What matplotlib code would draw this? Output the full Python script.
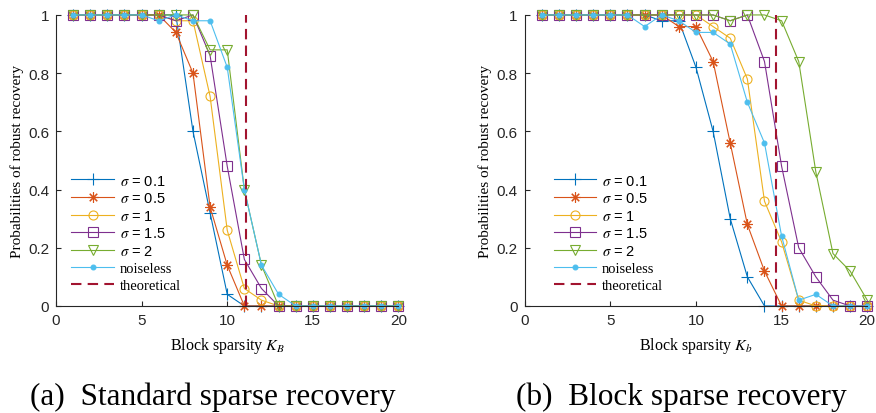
import matplotlib
matplotlib.use('Agg')
import matplotlib.pyplot as plt
from matplotlib.ticker import FuncFormatter

plt.rcParams['font.family'] = 'Liberation Sans'
plt.rcParams['mathtext.fontset'] = 'stix'

# block sparsity values on the x axis
ks = list(range(1, 21))

# (a) standard sparse recovery
std_s01 = [1, 1, 1, 1, 1, 1, 1, 0.60, 0.32, 0.04, 0, 0, 0, 0, 0, 0, 0, 0, 0, 0]
std_s05 = [1, 1, 1, 1, 1, 1, 0.94, 0.80, 0.34, 0.14, 0, 0, 0, 0, 0, 0, 0, 0, 0, 0]
std_s1 = [1, 1, 1, 1, 1, 1, 0.98, 0.98, 0.72, 0.26, 0.06, 0.02, 0, 0, 0, 0, 0, 0, 0, 0]
std_s15 = [1, 1, 1, 1, 1, 1, 0.98, 1, 0.86, 0.48, 0.16, 0.06, 0, 0, 0, 0, 0, 0, 0, 0]
std_s2 = [1, 1, 1, 1, 1, 1, 1, 1, 0.88, 0.88, 0.40, 0.14, 0, 0, 0, 0, 0, 0, 0, 0]
std_noiseless = [1, 1, 1, 1, 1, 0.98, 1, 0.98, 0.98, 0.82, 0.40, 0.14, 0.04, 0, 0, 0, 0, 0, 0, 0]
std_theory = 11.1

# (b) block sparse recovery
blk_s01 = [1, 1, 1, 1, 1, 1, 1, 0.98, 0.98, 0.82, 0.60, 0.30, 0.10, 0, 0, 0, 0, 0, 0, 0]
blk_s05 = [1, 1, 1, 1, 1, 1, 1, 1, 0.96, 0.96, 0.84, 0.56, 0.28, 0.12, 0, 0, 0, 0, 0, 0]
blk_s1 = [1, 1, 1, 1, 1, 1, 1, 1, 1, 1, 0.96, 0.92, 0.78, 0.36, 0.22, 0.02, 0, 0, 0, 0]
blk_s15 = [1, 1, 1, 1, 1, 1, 1, 1, 1, 1, 1, 0.98, 1, 0.84, 0.48, 0.20, 0.10, 0.02, 0, 0]
blk_s2 = [1, 1, 1, 1, 1, 1, 1, 1, 1, 1, 1, 0.98, 1, 1, 0.98, 0.84, 0.46, 0.18, 0.12, 0.02]
blk_noiseless = [1, 1, 1, 1, 1, 1, 0.96, 1, 0.98, 0.94, 0.94, 0.90, 0.70, 0.56, 0.24, 0.02, 0.04, 0, 0, 0]
blk_theory = 14.7

labels = [r'$\sigma$ = 0.1', r'$\sigma$ = 0.5', r'$\sigma$ = 1', r'$\sigma$ = 1.5',
          r'$\sigma$ = 2', 'noiseless', 'theoretical']
colors = ['#0072BD', '#D95319', '#EDB120', '#7E2F8E', '#77AC30', '#4DBEEE', '#A2142F']
markers = ['+', (8, 2, 0), 'o', 's', 'v', 'o']
msizes = [8, 7.5, 6.5, 6.5, 7.5, 3.5]


def draw_panel(ax, series, theory, xlabel, leg_x):
  for i, ys in enumerate(series):
    filled = i in (0, 1, 5)
    ax.plot(ks, ys, color=colors[i], lw=0.8, marker=markers[i], ms=msizes[i],
            mfc=colors[i] if filled else 'none', mec=colors[i], mew=0.8,
            label=labels[i])
  ax.plot([theory, theory], [0, 1], color=colors[6], lw=1.5, ls=(0, (5, 3)),
          label=labels[6])
  ax.set_xlim(0, 20)
  ax.set_ylim(0, 1)
  ax.set_xticks([0, 5, 10, 15, 20])
  ax.set_yticks([0, 0.2, 0.4, 0.6, 0.8, 1])
  ax.yaxis.set_major_formatter(FuncFormatter(lambda v, p: '%g' % v))
  for s in ['top', 'right']:
    ax.spines[s].set_visible(False)
  for s in ['left', 'bottom']:
    ax.spines[s].set_color('#262626')
    ax.spines[s].set_linewidth(0.8)
  ax.tick_params(direction='in', length=3.5, width=0.8, colors='#262626',
                 labelsize=11, pad=5)
  ax.set_xlabel(xlabel, family='Liberation Serif', fontsize=11.5, labelpad=6)
  ax.set_ylabel('Probabilities of robust recovery', family='Liberation Serif',
                fontsize=11, labelpad=3)
  leg = ax.legend(loc='upper left', bbox_to_anchor=(leg_x, 0.455), frameon=False,
                  fontsize=10.5, handlelength=2.9, handletextpad=0.4,
                  labelspacing=0.25, borderpad=0, borderaxespad=0)
  for t in leg.get_texts()[5:]:
    t.set_fontfamily('Liberation Serif')
  for ln in ax.lines:
    ln.set_clip_on(False)


fig = plt.figure(figsize=(8.76, 4.14), dpi=100)
ax1 = fig.add_axes([0.0639, 0.2585, 0.391, 0.703])
ax2 = fig.add_axes([0.599, 0.2585, 0.391, 0.703])

draw_panel(ax1, [std_s01, std_s05, std_s1, std_s15, std_s2, std_noiseless],
           std_theory, r'Block sparsity $K_B$', 0.045)
draw_panel(ax2, [blk_s01, blk_s05, blk_s1, blk_s15, blk_s2, blk_noiseless],
           blk_theory, r'Block sparsity $K_b$', 0.085)

fig.text(0.243, 0.04, '(a)  Standard sparse recovery', ha='center', va='center',
         fontsize=22.5, family='Liberation Serif')
fig.text(0.778, 0.04, '(b)  Block sparse recovery', ha='center', va='center',
         fontsize=22.5, family='Liberation Serif')

fig.savefig('out.png', dpi=100)
